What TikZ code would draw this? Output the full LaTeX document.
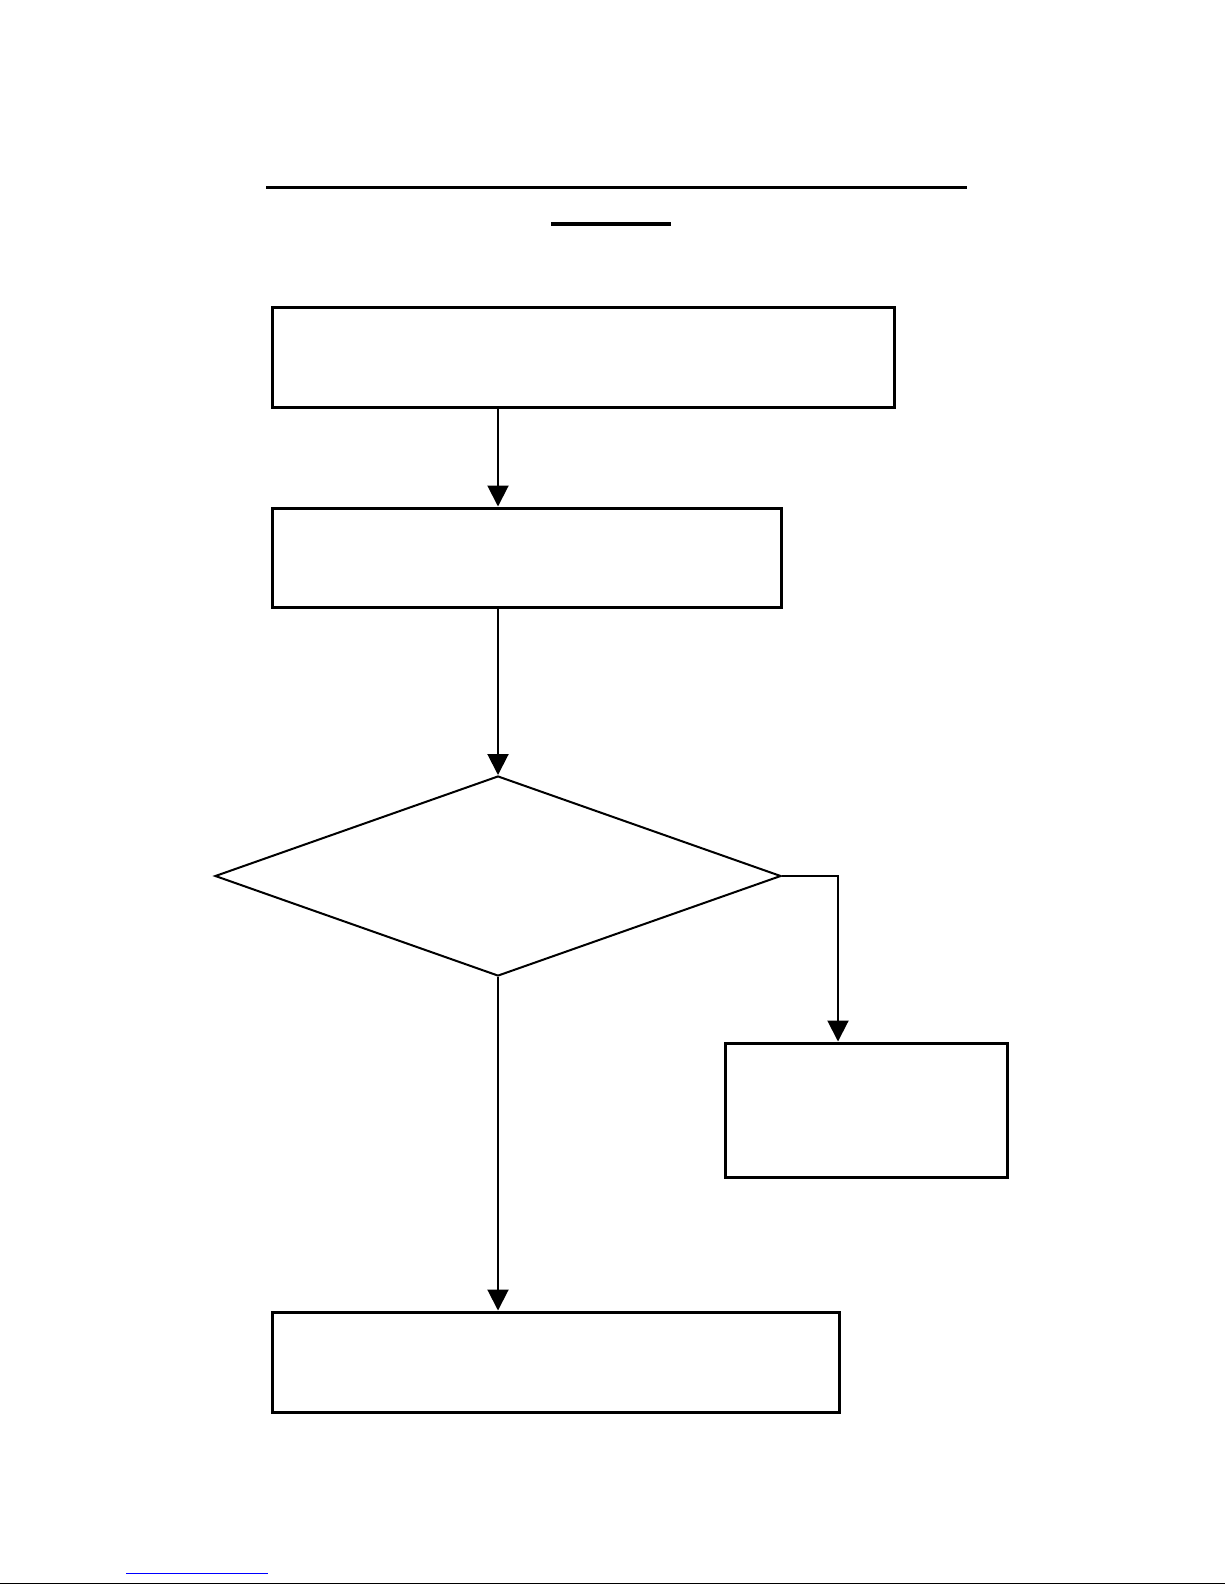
\documentclass[tikz,border=0pt]{standalone}
\usetikzlibrary{shapes.geometric,arrows.meta}
\tikzset{
  boxnode/.style={draw=black, line width=3pt, rectangle, inner sep=0pt},
  decnode/.style={draw=black, line width=2pt, diamond, inner sep=0pt},
  arr/.style={line width=2pt, -{Triangle[length=21pt,width=21pt]}},
  plain/.style={line width=2pt}
}
\begin{document}
\begin{tikzpicture}[x=1pt,y=-1pt]
\useasboundingbox (0,0) rectangle (1225,1585);
\fill[white] (0,0) rectangle (1225,1585);
% title rules
\draw[line width=3pt] (266,187) -- (967,187);
\draw[line width=4pt] (551,224) -- (671,224);
% boxes
\node[boxnode, minimum width=622pt, minimum height=100pt] (b1) at (583.5,357.5) {};
\node[boxnode, minimum width=509pt, minimum height=99pt] (b2) at (527,557.5) {};
\node[decnode, minimum width=566pt, minimum height=200pt] (d) at (498,876) {};
\node[boxnode, minimum width=282pt, minimum height=134pt] (b3) at (866,1110) {};
\node[boxnode, minimum width=567pt, minimum height=100pt] (b4) at (556,1362) {};
\coordinate (j) at (838,876);
% connectors
\draw[arr] (b1.south -| d.north) -- (b2.north -| d.north);
\draw[arr] (b2.south -| d.north) -- (d.north);
\draw[arr] (d.east) -- (j) -- (j |- b3.north);
\draw[arr] (d.south) -- (b4.north -| d.south);
% footer rules
\draw[blue, line width=1pt] (126,1573) -- (268,1573);
\draw[line width=1.5pt] (0,1583.5) -- (1225,1583.5);
\end{tikzpicture}
\end{document}
